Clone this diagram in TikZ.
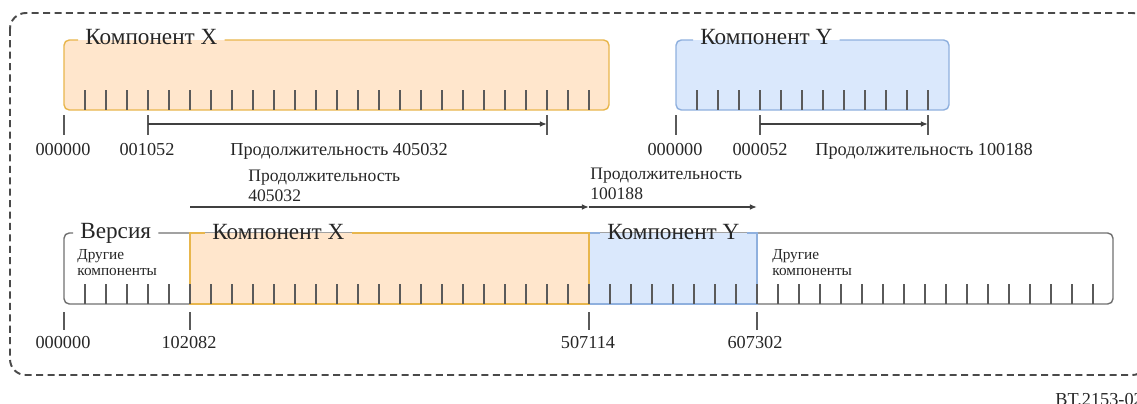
\documentclass[tikz,border=0pt]{standalone}
\usepackage{fontspec}
\setmainfont{Liberation Serif}
\usepackage{xcolor}
\usetikzlibrary{arrows.meta,positioning,calc}
\definecolor{compxfill}{HTML}{FFE6CC}
\definecolor{compxline}{HTML}{E8B64C}
\definecolor{compyfill}{HTML}{DAE8FC}
\definecolor{compyline}{HTML}{8FB0DE}
\definecolor{outlinegray}{HTML}{707070}
\definecolor{tickgray}{HTML}{5A5A5A}
\definecolor{framegray}{HTML}{4A4A4A}

\tikzset{
  bigtext/.style={inner sep=0pt, inner xsep=4pt, font=\fontsize{13.2}{15}\selectfont, text=black!85},
  smalltext/.style={inner sep=0pt, font=\fontsize{10.4}{12}\selectfont, text=black!85},
  midtext/.style={inner sep=0pt, align=left, font=\fontsize{10}{11.2}\selectfont, text=black!85},
  tinytext/.style={inner sep=0pt, align=left, font=\fontsize{8.7}{9.1}\selectfont, text=black!85},
  ruletick/.style={tickgray, line width=0.8pt},
  durarrow/.style={-{Latex[length=4pt,width=3.2pt]}, line width=0.8pt, black!75},
  xline/.style={compxline, line width=0.8pt, rounded corners=3pt},
  yline/.style={compyline, line width=0.8pt, rounded corners=3pt},
  outline/.style={outlinegray, line width=0.8pt, rounded corners=3pt}
}

\begin{document}
\begin{tikzpicture}[x=0.02cm, y=-0.02cm]
        \useasboundingbox (0,0) rectangle (1137,403);

        % Outer frame
        \draw[framegray, line width=1.1pt, dash pattern=on 4pt off 2.5pt, rounded corners=9pt] (10,13) rectangle (1148,375);

        % Component X (top)
        \coordinate (xtl) at (64,40);
        \coordinate (xbr) at (609,110);
        \fill[compxfill, rounded corners=3pt] (xtl) rectangle (xbr);
        \node[bigtext, anchor=base west] (xlab) at (78,44) {Компонент X};
        \draw[xline] (xlab.east |- xtl) -- (xbr |- xtl) -- (xbr) -- (xtl |- xbr) -- (xtl) -- (xlab.west |- xtl);
        \foreach \k in {1,...,25}
            \draw[ruletick] ({64+21*\k},90) -- ({64+21*\k},110);

        % Component Y (top)
        \coordinate (ytl) at (676,40);
        \coordinate (ybr) at (949,110);
        \fill[compyfill, rounded corners=3pt] (ytl) rectangle (ybr);
        \node[bigtext, anchor=base west] (ylab) at (693,44) {Компонент Y};
        \draw[yline] (ylab.east |- ytl) -- (ybr |- ytl) -- (ybr) -- (ytl |- ybr) -- (ytl) -- (ylab.west |- ytl);
        \foreach \k in {0,...,11}
            \draw[ruletick] ({697+21*\k},90) -- ({697+21*\k},110);

        % Offsets and durations (top)
        \foreach \p/\n in {64/xm0, 148/xm1, 547/xm2, 676/ym0, 760/ym1, 928/ym2} {
            \draw[ruletick] (\p,115) -- (\p,135);
            \coordinate (\n) at (\p,124);
        }
        \draw[durarrow] (xm1) -- (xm2);
        \draw[durarrow] (ym1) -- (ym2);
        \node[smalltext, anchor=base] (xoff0) at (63,155) {000000};
        \node[smalltext, anchor=base] (xoff1) at (147,155) {001052};
        \node[smalltext, anchor=base west] (xdur) at (230,155) {Продолжительность 405032};
        \node[smalltext, anchor=base] (yoff0) at (675,155) {000000};
        \node[smalltext, anchor=base] (yoff1) at (760,155) {000052};
        \node[smalltext, anchor=base west] (ydur) at (815,155) {Продолжительность 100188};

        % Durations (version)
        \coordinate (da) at (190,207);
        \coordinate (db) at (589,207);
        \coordinate (dc) at (757,207);
        \draw[durarrow] (da) -- (db);
        \draw[durarrow] (db) -- (dc);
        \node[midtext, anchor=base west] (dxlab) at (248,201.5) {Продолжительность\\405032};
        \node[midtext, anchor=base west] (dylab) at (590,199) {Продолжительность\\100188};

        % Version
        \coordinate (vtl) at (64,233);
        \coordinate (vbr) at (1113,304);
        \node[bigtext, anchor=base west] (vlab) at (73,238) {Версия};
        \draw[outline] (vlab.east |- vtl) -- (vbr |- vtl) -- (vbr) -- (vtl |- vbr) -- (vtl) -- (vlab.west |- vtl);
        \fill[compxfill] (190,233) rectangle (589,304);
        \fill[compyfill] (589,233) rectangle (757,304);
        \node[bigtext, anchor=base west] (vxlab) at (205,239) {Компонент X};
        \node[bigtext, anchor=base west] (vylab) at (600,239) {Компонент Y};
        \draw[yline, rounded corners=0pt] (vylab.east |- vtl) -- (757,233) -- (757,304) -- (589,304) -- (589,233) -- (vylab.west |- vtl);
        \draw[xline, rounded corners=0pt] (vxlab.east |- vtl) -- (589,233) -- (589,304) -- (190,304) -- (190,233) -- (vxlab.west |- vtl);
        \node[tinytext, anchor=base west] (other1) at (77,275) {Другие\\компоненты};
        \node[tinytext, anchor=base west] (other2) at (772,275) {Другие\\компоненты};
        \foreach \k in {1,...,49}
            \draw[ruletick] ({64+21*\k},284) -- ({64+21*\k},304);

        % Offsets (version)
        \foreach \p in {64,190,589,757}
            \draw[ruletick] (\p,312) -- (\p,330);
        \node[smalltext, anchor=base] (voff0) at (63,348) {000000};
        \node[smalltext, anchor=base] (voff1) at (189,348) {102082};
        \node[smalltext, anchor=base] (voff2) at (588,348) {507114};
        \node[smalltext, anchor=base] (voff3) at (755,348) {607302};

        % Figure number
        \node[smalltext, anchor=base west] (fignum) at (1055,405) {BT.2153-02};
    \end{tikzpicture}
\end{document}
